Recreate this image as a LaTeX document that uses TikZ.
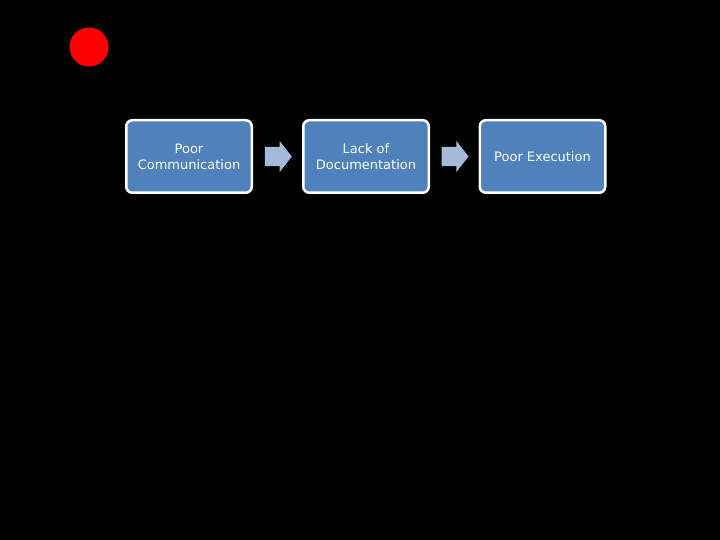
\documentclass[tikz,border=0pt]{standalone}
\usepackage{fontspec}
\setmainfont{DejaVu Sans}
\usetikzlibrary{shapes.arrows,calc}
\definecolor{boxBlue}{RGB}{79,129,189}
\definecolor{arrowBlue}{RGB}{167,185,219}

\begin{document}
\begin{tikzpicture}
[x=1pt,y=1pt,
  boxDecorate/.style={shape=rectangle,rounded corners=6pt,draw=white,line width=2.5pt,
    fill=boxBlue,text=white,align=center,minimum width=125.5pt,minimum height=72.5pt,
    inner sep=2pt,font=\fontsize{13}{16}\selectfont},
  arrowDecorate/.style={shape=single arrow,fill=arrowBlue,inner xsep=0pt,inner ysep=9.5pt,
    minimum height=27pt,single arrow head extend=6pt,
    single arrow tip angle=104,single arrow head indent=0pt},
  dotDecorate/.style={shape=circle,fill=red,minimum size=39pt,inner sep=0pt}]
\fill[black] (0,0) rectangle (720,540);
\useasboundingbox (0,0) rectangle (720,540);
%% marker
\node (dot) at (89,493) [dotDecorate] {};
%% boxes
\foreach \nodename/\x/\label in {
  comm/189/{Poor\\Communication},
  docu/366/{Lack of\\Documentation},
  exec/542.5/{Poor Execution}}
{
  \node (\nodename) at (\x,383.5) [boxDecorate] {\label};
}
%% arrows between boxes
\foreach \startnode/\endnode/\arrowname in {comm/docu/step1, docu/exec/step2}
{
  \node (\arrowname) at ($(\startnode.east)!0.5!(\endnode.west)+(-3,0)$) [arrowDecorate] {};
}
\end{tikzpicture}
\end{document}
